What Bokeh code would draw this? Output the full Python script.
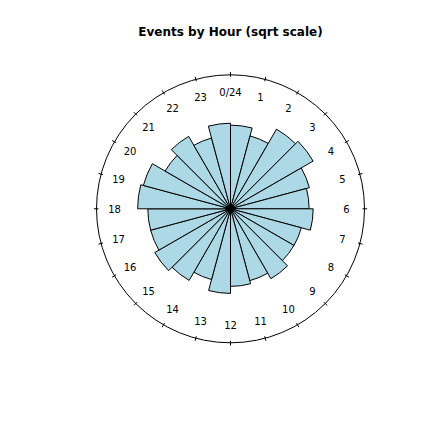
import math
from bokeh.plotting import figure
from bokeh.embed import file_html
from bokeh.resources import INLINE
from bokeh.models import ColumnDataSource
from bokeh.core.properties import value

# ---- data ----
hours = list(range(24))
counts = [43, 35, 52, 56, 41, 38, 42, 33, 33, 40, 34, 37,
          44, 33, 42, 47, 42, 42, 53, 50, 35, 43, 33, 45]
hour_labels = ["0/24"] + [str(h) for h in range(1, 24)]
title_text = "Events by Hour (sqrt scale)"

# ---- geometry ----
PX = 134.0          # pixels per unit (circle radius)
CX, CY = 230.0, 208.3
W = H = 432
prop = 3.0
total = float(sum(counts))

x_range = (-CX / PX, (W - CX) / PX)
y_range = (-(H - CY) / PX, CY / PX)

p = figure(width=W, height=H, x_range=x_range, y_range=y_range,
           output_backend="svg", toolbar_location=None, min_border=0)
p.axis.visible = False
p.grid.visible = False
p.outline_line_color = None
p.background_fill_color = "white"
p.border_fill_color = "white"

radii = [prop * math.sqrt(c / total) for c in counts]
starts = [math.radians(90 - 15 * (h + 1)) for h in hours]
ends = [math.radians(90 - 15 * h) for h in hours]
src = ColumnDataSource(dict(x=[0.0] * 24, y=[0.0] * 24, r=radii, s=starts, e=ends))
p.wedge(x="x", y="y", radius="r", start_angle="s", end_angle="e",
        direction="anticlock", source=src, fill_color="#ADD8E6",
        line_color="black", line_width=1)

# outer circle
p.circle(x=[0.0], y=[0.0], radius=[1.0], fill_color=None,
         line_color="black", line_width=1)

# ticks on circle
th = [math.radians(15 * h) for h in hours]
p.segment(x0=[0.985 * math.sin(t) for t in th], y0=[0.985 * math.cos(t) for t in th],
          x1=[1.02 * math.sin(t) for t in th], y1=[1.02 * math.cos(t) for t in th],
          line_color="black", line_width=1)

# hour labels
lr = 0.865
p.text(x=[lr * math.sin(t) for t in th], y=[lr * math.cos(t) for t in th],
       text=hour_labels, text_align="center", text_baseline="middle",
       text_font=value("DejaVu Sans"), text_font_size="10px", text_color="black")

# centre blob
p.scatter(x=[0.0], y=[0.0], marker="square", size=7, angle=math.pi / 4,
          fill_color="black", line_color="black")

# title
p.text(x=[0.0], y=[(CY - 31) / PX], text=[title_text], text_align="center",
       text_baseline="middle", text_font=value("DejaVu Sans"),
       text_font_size="12px", text_font_style="bold", text_color="black")

open("out.html", "w").write(file_html(p, INLINE))
